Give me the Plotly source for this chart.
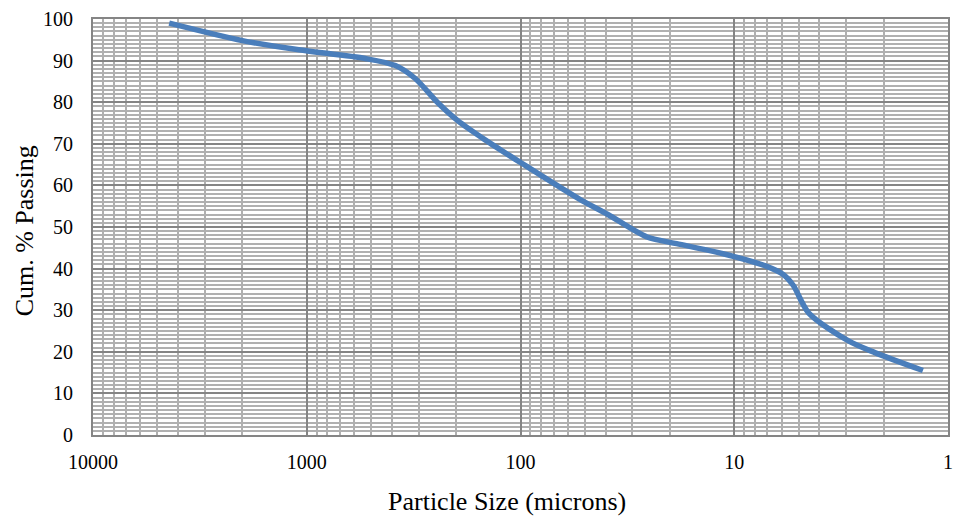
import plotly.graph_objects as go

# Data
particle_size = [4400, 2000, 1090, 532, 385, 311, 243, 196, 147, 100, 53, 39, 25.6, 18.6, 13.5, 10, 7.1, 5.9, 5.3, 4.48, 2.92, 2.2, 1.31]
cum_passing = [99.0, 94.8, 92.6, 90.5, 88.8, 85.7, 79.8, 75.5, 71.0, 65.5, 56.7, 53.0, 47.6, 46.0, 44.5, 42.9, 40.6, 38.6, 36.0, 29.3, 22.6, 19.8, 15.5]

x_tickvals = [10000, 1000, 100, 10, 1]
x_ticktext = ["10000", "1000", "100", "10", "1"]
y_tickvals = list(range(0, 101, 10))

x_title = "Particle Size (microns)"
y_title = "Cum. % Passing"

minor_x = [m * d for d in (1, 10, 100, 1000) for m in range(2, 10)]

fig = go.Figure()
fig.add_trace(go.Scatter(
    x=particle_size, y=cum_passing, mode="lines",
    line=dict(color="#4a7ebb", width=5.5, shape="spline", smoothing=0.8),
    showlegend=False, hoverinfo="skip",
))

font_family = "Liberation Serif, Times New Roman, serif"
major_grid = "#858585"
minor_grid = "#b0b0b0"

fig.update_layout(
    width=961, height=518,
    margin=dict(l=93, r=8, t=15, b=83),
    paper_bgcolor="white", plot_bgcolor="white",
    font=dict(family=font_family, size=20, color="black"),
    xaxis=dict(
        type="log", range=[4, 0],
        tickvals=x_tickvals, ticktext=x_ticktext,
        showgrid=True, gridcolor=major_grid, gridwidth=2,
        minor=dict(tickvals=minor_x, showgrid=True, gridcolor=minor_grid, gridwidth=2),
        showline=True, linecolor=major_grid, linewidth=2, mirror=True,
        ticks="", ticklabelstandoff=8,
        tickfont=dict(size=20),
        zeroline=False,
    ),
    yaxis=dict(
        range=[0, 100], tickvals=y_tickvals,
        showgrid=True, gridcolor=major_grid, gridwidth=2,
        minor=dict(dtick=1, showgrid=True, gridcolor=minor_grid, gridwidth=2),
        showline=True, linecolor=major_grid, linewidth=2, mirror=True,
        ticks="", ticklabelstandoff=14,
        tickfont=dict(size=20),
        zeroline=False,
    ),
    annotations=[
        dict(text=x_title, x=509, y=502, xref="paper", yref="paper", showarrow=False,
             font=dict(size=26), xanchor="center", yanchor="middle"),
        dict(text=y_title, x=25, y=229, xref="paper", yref="paper", showarrow=False,
             font=dict(size=26), textangle=-90, xanchor="center", yanchor="middle"),
    ],
)

# convert pixel positions of titles to paper coords
plot_l, plot_r, plot_t, plot_b = 93, 953, 15, 435
for ann in fig.layout.annotations:
    px, py = ann.x, ann.y
    ann.x = (px - plot_l) / (plot_r - plot_l)
    ann.y = (plot_b - py) / (plot_b - plot_t)

fig.write_html("out.html")
